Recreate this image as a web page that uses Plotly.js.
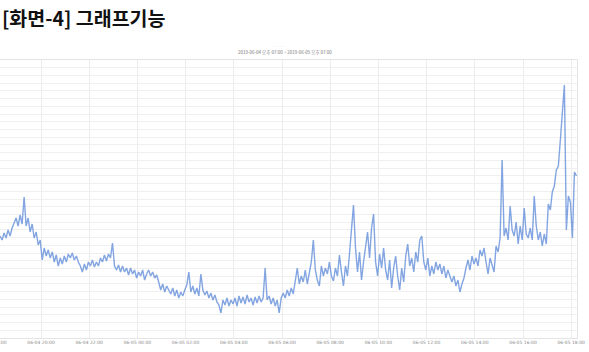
<!DOCTYPE html>
<html>
<head>
<meta charset="utf-8">
<script src="https://cdn.plot.ly/plotly-3.0.1.min.js"></script>
<style>
html,body{margin:0;padding:0;background:#fff;overflow:hidden;width:589px;height:352px;}
#chart{position:absolute;left:-30px;top:0;width:619px;height:352px;}
</style>
</head>
<body>
<div id="chart"></div>
<script>
// Chart texts
const pageTitle = "[화면-4] 그래프기능";
const chartTitle = "2019-06-04 오후 07:00 ~ 2019-06-05 오후 07:00";

// Series: one sample every 5 minutes starting at this time
const startTime = "2019-06-04 18:18:00";
const stepMinutes = 5;
const values = [
 102,98,105,100,108,102,110,116,120,112,123,114,141,112,120,106,114,100,106,93,98,
 78,90,82,88,80,86,76,83,72,80,74,82,76,84,80,85,78,82,76,72,66,74,68,76,72,78,71,76,72,80,76,83,77,84,80,95,72,68,73,66,
 72,66,70,63,70,64,68,60,66,62,68,58,64,68,62,66,60,63,
 56,48,54,46,52,48,44,50,42,48,40,46,42,48,53,66,46,52,44,50,42,64,48,43,47,40,45,38,43,36,33,25,38,33,40,32,38,34,40,32,42,35,41,34,43,36,40,33,41,35,42,36,40,70,38,42,34,40,32,38,25,40,45,40,48,42,50,44,56,70,54,62,
 56,68,54,66,76,98,68,58,52,72,62,70,64,76,62,57,70,62,83,66,52,72,62,84,106,133,90,66,86,58,
 76,90,106,80,110,124,76,62,84,70,90,68,58,78,50,70,82,62,48,70,56,82,94,72,80,66,86,76,98,102,76,68,80,62,
 72,64,76,68,74,64,72,60,68,62,56,62,52,58,46,54,60,70,78,68,82,74,80,72,88,
 82,90,76,64,80,72,66,92,86,100,178,102,110,98,132,108,102,116,94,112,98,130,104,100,110,98,142,112,98,106,92,104,94,134,128,146,152,168,172,198,228,253,108,142,136,100,166,162
];

// X-axis ticks
const tickTimes = ["2019-06-04 18:00","2019-06-04 20:00","2019-06-04 22:00","2019-06-05 00:00","2019-06-05 02:00","2019-06-05 04:00","2019-06-05 06:00","2019-06-05 08:00","2019-06-05 10:00","2019-06-05 12:00","2019-06-05 14:00","2019-06-05 16:00","2019-06-05 18:00"];
const tickLabels = ["06-04 18:00","06-04 20:00","06-04 22:00","06-05 00:00","06-05 02:00","06-05 04:00","06-05 06:00","06-05 08:00","06-05 10:00","06-05 12:00","06-05 14:00","06-05 16:00","06-05 18:00"];

function pad(n){return (n<10?"0":"")+n;}
const t0 = new Date(startTime.replace(" ","T")).getTime();
const times = values.map((v,i)=>{
  const d = new Date(t0 + i*stepMinutes*60000);
  return d.getFullYear()+"-"+pad(d.getMonth()+1)+"-"+pad(d.getDate())+" "+pad(d.getHours())+":"+pad(d.getMinutes())+":00";
});

const trace = {
  x: times, y: values, type: "scatter", mode: "lines",
  line: {color: "rgba(100,142,218,0.8)", width: 1.4},
  hoverinfo: "skip"
};

const PW = 607; // plot width in px (div spans page -30 .. 577)
const layout = {
  width: 619, height: 352,
  margin: {l: 0, r: 12, t: 60, b: 14},
  paper_bgcolor: "#fff", plot_bgcolor: "#fff",
  showlegend: false,
  xaxis: {
    type: "date",
    range: ["2019-06-04 17:03:14", "2019-06-05 18:14:26"],
    tickvals: tickTimes, ticktext: tickLabels,
    tickfont: {size: 4.5, color: "#8a8a8a", family: "DejaVu Sans"},
    showgrid: true, gridcolor: "#ececec", gridwidth: 1,
    showline: true, linecolor: "#e4e4e4", linewidth: 1, mirror: true,
    ticks: "", zeroline: false
  },
  yaxis: {
    range: [0, 278],
    tick0: 0, dtick: 278/36,
    showticklabels: false,
    showgrid: true, gridcolor: "#f0f0f0", gridwidth: 1,
    showline: true, linecolor: "#e4e4e4", linewidth: 1, mirror: true,
    ticks: "", zeroline: false
  },
  annotations: [
    {text: "<b>"+pageTitle+"</b>", xref: "paper", yref: "paper", x: 30/PW, y: (338-17)/278,
     xanchor: "left", yanchor: "middle", showarrow: false,
     font: {size: 19.5, color: "#111", family: "Noto Sans CJK KR"}},
    {text: chartTitle, xref: "paper", yref: "paper", x: (285+30)/PW, y: (338-53)/278,
     xanchor: "center", yanchor: "middle", showarrow: false,
     font: {size: 4.5, color: "#777", family: "Noto Sans CJK KR"}},
    {text: "· · · ·", xref: "paper", yref: "paper", x: (280+30)/PW, y: (338-46)/278,
     xanchor: "center", yanchor: "middle", showarrow: false,
     font: {size: 5, color: "#ccc", family: "DejaVu Sans"}}
  ]
};

Plotly.newPlot("chart", [trace], layout, {displayModeBar: false, staticPlot: true});
</script>
</body>
</html>
